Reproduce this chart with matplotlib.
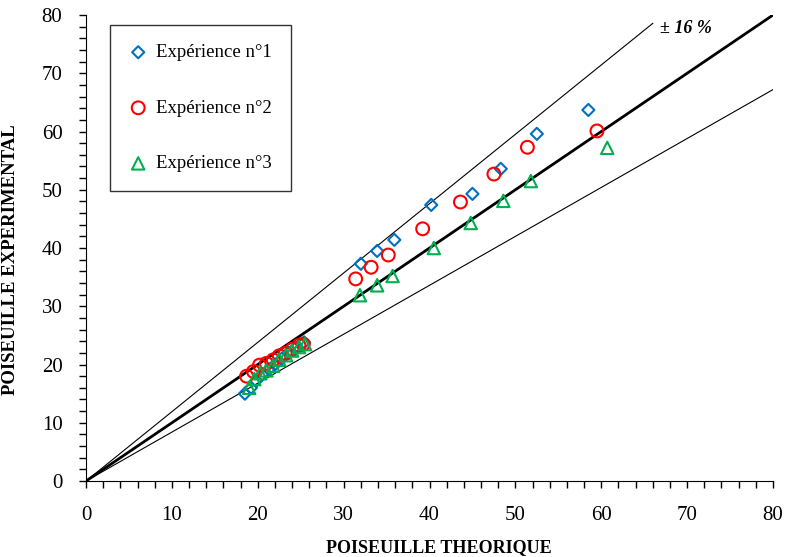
import numpy as np
import matplotlib
matplotlib.use('Agg')
import matplotlib.pyplot as plt
from matplotlib.ticker import MultipleLocator

# Experience 1 (blue diamonds)
x1 = [18.5, 19.2, 19.8, 20.5, 21.3, 22.0, 22.8, 23.6, 24.4, 25.4,
      32.0, 33.9, 35.9, 40.2, 45.0, 48.3, 52.5, 58.5]
y1 = [15.0, 16.0, 17.2, 18.3, 19.2, 20.0, 21.0, 22.0, 22.9, 23.8,
      37.3, 39.5, 41.4, 47.4, 49.3, 53.6, 59.6, 63.7]

# Experience 2 (red circles)
x2 = [18.7, 19.5, 20.2, 21.0, 21.8, 22.5, 23.2, 24.0, 24.8, 25.3,
      31.4, 33.2, 35.2, 39.2, 43.6, 47.5, 51.4, 59.5]
y2 = [18.0, 18.8, 19.9, 20.2, 20.8, 21.5, 21.9, 22.6, 23.3, 23.5,
      34.7, 36.7, 38.8, 43.3, 47.9, 52.7, 57.3, 60.1]

# Experience 3 (green triangles)
x3 = [19.0, 19.6, 20.3, 21.0, 21.8, 22.5, 23.3, 24.0, 24.8, 25.5,
      31.9, 33.9, 35.7, 40.5, 44.8, 48.6, 51.8, 60.7]
y3 = [16.0, 17.5, 18.5, 19.0, 19.8, 20.8, 21.6, 22.4, 23.0, 23.5,
      31.9, 33.6, 35.2, 40.0, 44.3, 48.1, 51.5, 57.2]

plt.rcParams['font.family'] = ['Liberation Serif', 'DejaVu Serif']

fig = plt.figure(figsize=(7.85, 5.57), dpi=100)
ax = fig.add_axes([0.1096, 0.1364, 0.8751, 0.8366])

# reference lines: y = x and +/- 16 %
ax.plot([0, 80], [0, 80], color='black', lw=2, zorder=1)
ax.plot([0, 66], [0, 66 / 0.84], color='black', lw=0.8, zorder=1)
ax.plot([0, 80], [0, 80 * 0.84], color='black', lw=0.8, zorder=1)

ax.scatter(x1, y1, marker='D', s=38, facecolors='none', edgecolors='#0070C0',
           linewidths=1.5, label='Expérience n°1', zorder=3)
ax.scatter(x2, y2, marker='o', s=85, facecolors='none', edgecolors='#FF0000',
           linewidths=1.5, label='Expérience n°2', zorder=3)
ax.scatter(x3, y3, marker='^', s=80, facecolors='none', edgecolors='#00B050',
           linewidths=1.5, label='Expérience n°3', zorder=3)

ax.text(66.8, 77.0, '± 16 %', fontsize=13, fontweight='bold', style='italic')

ax.set_xlim(0, 80)
ax.set_ylim(0, 80)
ax.xaxis.set_major_locator(MultipleLocator(10))
ax.yaxis.set_major_locator(MultipleLocator(10))
ax.xaxis.set_minor_locator(MultipleLocator(2))
ax.yaxis.set_minor_locator(MultipleLocator(2))
ax.tick_params(axis='x', which='both', direction='out', length=5, width=1, pad=13, labelsize=15)
ax.tick_params(axis='y', which='both', direction='out', length=5, width=1, pad=12, labelsize=15)
ax.spines['top'].set_visible(False)
ax.spines['right'].set_visible(False)

ax.set_xlabel('POISEUILLE THEORIQUE', fontsize=13, fontweight='bold', labelpad=9)
ax.xaxis.set_label_coords(0.513, -0.125)
ax.set_ylabel('POISEUILLE EXPERIMENTAL', fontsize=13.5, fontweight='bold')
ax.yaxis.set_label_coords(-0.098, 0.475)

leg = ax.legend(loc='upper left', bbox_to_anchor=(0.035, 0.978), fontsize=13.5,
                frameon=True, fancybox=False, edgecolor='black', labelspacing=2.05,
                borderpad=1.0, handletextpad=0.45, handlelength=1.0,
                borderaxespad=0, scatterpoints=1)
leg.get_frame().set_linewidth(1.0)

fig.savefig('out.png', dpi=100)
